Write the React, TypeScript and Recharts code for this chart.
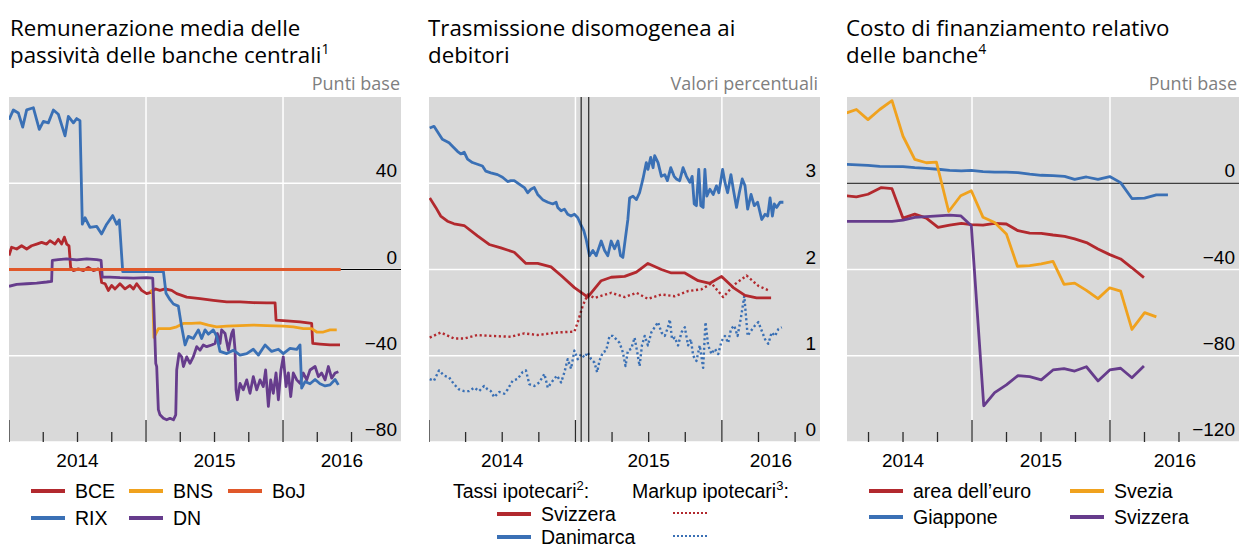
import React from "react";
import { LineChart, Line, XAxis, YAxis, CartesianGrid, ReferenceLine } from "recharts";

type Pt = [number, number];

// ---------- panel 1: average remuneration of central bank liabilities (bp) ----------
const bceData: Pt[] = [
  [2014.0, 6.5], [2014.019, 10.3], [2014.056, 9.5], [2014.092, 11], [2014.129, 9.5], [2014.165, 11],
  [2014.202, 11.8], [2014.238, 12.6], [2014.275, 11.8], [2014.299, 13.4], [2014.336, 11.8], [2014.36, 14],
  [2014.384, 11.8], [2014.404, 15], [2014.421, 11.8], [2014.438, 11], [2014.45, 1], [2014.47, -0.5],
  [2014.506, 0.3], [2014.543, -0.5], [2014.579, 1], [2014.616, -0.5], [2014.652, 0.3], [2014.664, -0.5],
  [2014.676, -6], [2014.701, -6.6], [2014.725, -9.7], [2014.749, -7.4], [2014.774, -9], [2014.81, -6.6],
  [2014.847, -9], [2014.883, -7.4], [2014.908, -9], [2014.932, -6.6], [2014.968, -9.7], [2015.005, -11.2],
  [2015.041, -10.5], [2015.066, -9], [2015.102, -9.7], [2015.139, -9], [2015.187, -9.7], [2015.224, -11.2],
  [2015.297, -12.8], [2015.394, -13.5], [2015.491, -14.3], [2015.589, -15], [2015.686, -15], [2015.783, -15.4],
  [2015.881, -15.5], [2015.942, -15.5], [2015.949, -23.5], [2016.027, -23.8], [2016.124, -24.3], [2016.209, -25],
  [2016.217, -34.3], [2016.27, -34.6], [2016.343, -35], [2016.416, -35],
];
const bnsData: Pt[] = [
  [2015.034, -9.4], [2015.049, -11], [2015.058, -31.5], [2015.09, -27.4], [2015.127, -27.4], [2015.175, -27.4],
  [2015.224, -26.6], [2015.273, -25], [2015.333, -25], [2015.394, -24.8], [2015.455, -25.8], [2015.516, -26.6],
  [2015.589, -26.3], [2015.686, -26], [2015.783, -25.8], [2015.881, -26], [2016.002, -26.3], [2016.075, -26.6],
  [2016.148, -27.4], [2016.209, -27.4], [2016.246, -29], [2016.294, -29], [2016.343, -28], [2016.392, -28],
];
const bojData: Pt[] = [[2014.0, 0], [2016.421, 0]];
const rixData: Pt[] = [
  [2014.0, 69.5], [2014.032, 74], [2014.068, 72.6], [2014.1, 66], [2014.129, 74], [2014.178, 75],
  [2014.221, 65], [2014.251, 68.7], [2014.287, 68], [2014.324, 74], [2014.36, 72], [2014.409, 62],
  [2014.433, 71], [2014.47, 68], [2014.494, 70], [2014.518, 69], [2014.535, 21], [2014.555, 24],
  [2014.591, 19.5], [2014.64, 20], [2014.676, 16.5], [2014.713, 21], [2014.757, 25], [2014.786, 21],
  [2014.805, 23], [2014.83, -1], [2015.127, -1], [2015.146, -11], [2015.175, -14], [2015.2, -16],
  [2015.236, -17], [2015.26, -26.6], [2015.285, -35], [2015.309, -31], [2015.345, -32], [2015.382, -28],
  [2015.406, -32], [2015.431, -28], [2015.455, -30], [2015.491, -28], [2015.516, -31], [2015.54, -38],
  [2015.589, -39], [2015.637, -37.4], [2015.686, -39.7], [2015.735, -39], [2015.783, -37], [2015.82, -39.7],
  [2015.869, -35], [2015.917, -38], [2015.966, -37], [2016.002, -39], [2016.051, -36.6], [2016.1, -37],
  [2016.124, -35], [2016.136, -55], [2016.161, -52], [2016.197, -53], [2016.234, -51], [2016.27, -53],
  [2016.307, -54], [2016.343, -53.5], [2016.38, -51], [2016.404, -53.5],
];
const dnData: Pt[] = [
  [2014.0, -7.8], [2014.056, -6.9], [2014.129, -6.6], [2014.202, -6.3], [2014.275, -5.8], [2014.311, -5.5],
  [2014.316, 4.2], [2014.36, 4.6], [2014.421, 4.9], [2014.494, 4.5], [2014.567, 4.9], [2014.64, 4.6],
  [2014.672, 4.2], [2014.681, -3.5], [2014.737, -3.5], [2014.81, -3.8], [2014.908, -4], [2015.005, -3.8],
  [2015.049, -4], [2015.058, -19], [2015.071, -43.5], [2015.078, -45], [2015.09, -65], [2015.102, -67.4],
  [2015.127, -69], [2015.151, -69.7], [2015.175, -69], [2015.2, -69.7], [2015.217, -67.4], [2015.224, -46.6],
  [2015.241, -39], [2015.26, -40.5], [2015.273, -45], [2015.297, -40.5], [2015.321, -43.5], [2015.345, -40.5],
  [2015.37, -35.8], [2015.394, -37.4], [2015.418, -35], [2015.443, -35.8], [2015.479, -35], [2015.504, -34.3],
  [2015.521, -29.7], [2015.54, -34.3], [2015.552, -28], [2015.577, -29.7], [2015.601, -37.4], [2015.625, -29.7],
  [2015.637, -28], [2015.65, -37.4], [2015.657, -55.8], [2015.667, -60.4], [2015.686, -52.8], [2015.71, -55.8],
  [2015.735, -51.2], [2015.759, -57.4], [2015.783, -49.7], [2015.808, -55.8], [2015.832, -51.2], [2015.856, -54.3],
  [2015.873, -46.6], [2015.893, -63.5], [2015.91, -51.2], [2015.929, -57.4], [2015.949, -48], [2015.966, -60.4],
  [2015.985, -46.6], [2016.002, -40.5], [2016.022, -54.3], [2016.039, -48], [2016.056, -59], [2016.075, -48],
  [2016.1, -51.2], [2016.124, -52.8], [2016.148, -48], [2016.173, -51.2], [2016.197, -46.6], [2016.234, -45],
  [2016.258, -49.7], [2016.282, -48], [2016.307, -51.2], [2016.331, -45], [2016.355, -50.4], [2016.38, -48],
  [2016.404, -47.4],
];

// ---------- panel 2: mortgage rates and markups (%) ----------
const chRate: Pt[] = [
  [2014.005, 2.83], [2014.046, 2.72], [2014.08, 2.62], [2014.126, 2.56], [2014.171, 2.53], [2014.24, 2.51],
  [2014.331, 2.39], [2014.411, 2.29], [2014.491, 2.25], [2014.582, 2.2], [2014.662, 2.07], [2014.742, 2.07],
  [2014.833, 2.03], [2014.902, 1.93], [2014.993, 1.79], [2015.084, 1.68], [2015.176, 1.87], [2015.244, 1.91],
  [2015.336, 1.92], [2015.416, 1.97], [2015.495, 2.07], [2015.587, 2.0], [2015.655, 1.96], [2015.747, 1.96],
  [2015.838, 1.87], [2015.918, 1.84], [2015.998, 1.92], [2016.078, 1.79], [2016.158, 1.7], [2016.237, 1.67],
  [2016.336, 1.67],
];
const dkRate: Pt[] = [
  [2014.005, 3.64], [2014.034, 3.66], [2014.057, 3.6], [2014.091, 3.51], [2014.114, 3.49], [2014.137, 3.47],
  [2014.16, 3.43], [2014.194, 3.37], [2014.217, 3.34], [2014.24, 3.36], [2014.263, 3.28], [2014.297, 3.24],
  [2014.331, 3.22], [2014.365, 3.2], [2014.388, 3.14], [2014.422, 3.12], [2014.468, 3.1], [2014.502, 3.07],
  [2014.537, 3.02], [2014.559, 3.03], [2014.582, 3.03], [2014.616, 2.99], [2014.651, 2.95], [2014.674, 2.89],
  [2014.696, 2.93], [2014.719, 2.95], [2014.742, 2.87], [2014.776, 2.81], [2014.811, 2.78], [2014.845, 2.76],
  [2014.868, 2.78], [2014.879, 2.72], [2014.902, 2.68], [2014.925, 2.7], [2014.947, 2.64], [2014.97, 2.62],
  [2014.993, 2.64], [2015.016, 2.6], [2015.034, 2.53], [2015.057, 2.45], [2015.073, 2.35], [2015.096, 2.16],
  [2015.119, 2.22], [2015.142, 2.16], [2015.176, 2.33], [2015.199, 2.22], [2015.221, 2.16], [2015.244, 2.33],
  [2015.267, 2.24], [2015.29, 2.33], [2015.308, 2.16], [2015.324, 2.14], [2015.34, 2.35], [2015.358, 2.58],
  [2015.37, 2.83], [2015.393, 2.85], [2015.416, 2.81], [2015.438, 2.89], [2015.461, 3.05], [2015.484, 3.24],
  [2015.495, 3.16], [2015.514, 3.3], [2015.53, 3.18], [2015.541, 3.32], [2015.564, 3.24], [2015.587, 3.08],
  [2015.61, 3.1], [2015.628, 3.03], [2015.651, 3.18], [2015.674, 3.08], [2015.689, 3.05], [2015.712, 3.03],
  [2015.735, 3.18], [2015.758, 3.08], [2015.781, 3.01], [2015.797, 3.08], [2015.811, 2.76], [2015.826, 2.74],
  [2015.842, 3.16], [2015.856, 2.74], [2015.872, 2.72], [2015.884, 3.16], [2015.897, 2.85], [2015.918, 2.93],
  [2015.941, 2.87], [2015.963, 2.97], [2015.979, 2.89], [2016.005, 3.16], [2016.021, 3.01], [2016.039, 2.89],
  [2016.062, 3.1], [2016.078, 2.93], [2016.1, 2.72], [2016.119, 2.89], [2016.139, 3.05], [2016.158, 2.97],
  [2016.176, 2.7], [2016.199, 2.87], [2016.221, 2.74], [2016.244, 2.78], [2016.272, 2.58], [2016.295, 2.64],
  [2016.313, 2.62], [2016.329, 2.83], [2016.345, 2.62], [2016.358, 2.76], [2016.374, 2.72], [2016.397, 2.78],
  [2016.42, 2.78],
];
const chMarkup: Pt[] = [
  [2014.005, 1.21], [2014.08, 1.27], [2014.171, 1.2], [2014.24, 1.2], [2014.331, 1.24], [2014.422, 1.23],
  [2014.559, 1.22], [2014.651, 1.26], [2014.742, 1.24], [2014.879, 1.27], [2014.993, 1.28], [2015.016, 1.39],
  [2015.05, 1.58], [2015.084, 1.71], [2015.13, 1.67], [2015.244, 1.73], [2015.336, 1.68], [2015.416, 1.73],
  [2015.495, 1.66], [2015.587, 1.71], [2015.678, 1.69], [2015.769, 1.75], [2015.861, 1.77], [2015.929, 1.84],
  [2016.009, 1.68], [2016.089, 1.83], [2016.169, 1.93], [2016.249, 1.81], [2016.329, 1.75],
];
const dkMarkup: Pt[] = [
  [2014.005, 0.73], [2014.034, 0.71], [2014.068, 0.83], [2014.103, 0.77], [2014.137, 0.75], [2014.171, 0.67],
  [2014.205, 0.61], [2014.24, 0.59], [2014.274, 0.59], [2014.308, 0.63], [2014.342, 0.59], [2014.377, 0.65],
  [2014.4, 0.61], [2014.422, 0.59], [2014.445, 0.52], [2014.479, 0.58], [2014.514, 0.56], [2014.537, 0.61],
  [2014.571, 0.71], [2014.605, 0.73], [2014.639, 0.81], [2014.662, 0.83], [2014.685, 0.67], [2014.719, 0.65],
  [2014.753, 0.69], [2014.788, 0.79], [2014.811, 0.63], [2014.845, 0.71], [2014.874, 0.77], [2014.902, 0.69],
  [2014.925, 0.81], [2014.947, 0.96], [2014.97, 0.85], [2014.993, 1.06], [2015.016, 0.96], [2015.039, 1.02],
  [2015.062, 0.98], [2015.084, 1.04], [2015.107, 0.96], [2015.13, 0.92], [2015.148, 0.81], [2015.164, 0.94],
  [2015.187, 1.04], [2015.21, 1.06], [2015.233, 1.23], [2015.256, 1.23], [2015.279, 1.19], [2015.301, 1.15],
  [2015.324, 1.04], [2015.342, 0.88], [2015.358, 1.06], [2015.381, 1.08], [2015.404, 1.21], [2015.422, 1.04],
  [2015.438, 0.88], [2015.454, 1.12], [2015.473, 1.23], [2015.495, 1.12], [2015.518, 1.27], [2015.541, 1.33],
  [2015.564, 1.39], [2015.587, 1.27], [2015.61, 1.23], [2015.632, 1.33], [2015.644, 1.42], [2015.66, 1.19],
  [2015.678, 1.21], [2015.701, 1.12], [2015.724, 1.27], [2015.747, 1.33], [2015.769, 1.12], [2015.788, 1.19],
  [2015.804, 1.0], [2015.826, 0.94], [2015.849, 1.12], [2015.872, 0.86], [2015.888, 1.39], [2015.906, 1.12],
  [2015.929, 1.02], [2015.952, 1.08], [2015.975, 1.02], [2015.998, 1.17], [2016.021, 1.23], [2016.043, 1.15],
  [2016.062, 1.31], [2016.084, 1.35], [2016.107, 1.23], [2016.13, 1.44], [2016.153, 1.69], [2016.176, 1.23],
  [2016.199, 1.29], [2016.226, 1.35], [2016.249, 1.39], [2016.272, 1.29], [2016.295, 1.19], [2016.317, 1.14],
  [2016.34, 1.27], [2016.363, 1.23], [2016.386, 1.31], [2016.409, 1.33],
];
const snbDates = [2015.039, 2015.091];

// ---------- panel 3: relative bank funding cost (bp) ----------
const euroArea: Pt[] = [
  [2014.092, -5.8], [2014.162, -6.3], [2014.246, -5.1], [2014.343, -2], [2014.42, -2.5], [2014.5, -16.2],
  [2014.585, -14.3], [2014.669, -16.2], [2014.754, -20.5], [2014.838, -19.4], [2014.923, -18.6], [2014.995, -19.2],
  [2015.08, -19.4], [2015.164, -18.6], [2015.249, -18.9], [2015.333, -22], [2015.418, -23.1], [2015.502, -23.2],
  [2015.587, -24], [2015.671, -24.6], [2015.744, -25.8], [2015.829, -27.5], [2015.913, -30.5], [2015.998, -33.1],
  [2016.077, -35.1], [2016.159, -39.2], [2016.246, -43.8],
];
const sweden: Pt[] = [
  [2014.092, 32.6], [2014.162, 34.2], [2014.246, 29.5], [2014.331, 34.2], [2014.42, 38.3], [2014.5, 21.8],
  [2014.585, 11.1], [2014.669, 9.5], [2014.742, 9.8], [2014.831, -13.1], [2014.918, -5.8], [2014.995, -3.5],
  [2015.08, -15.8], [2015.164, -18.2], [2015.249, -23.5], [2015.329, -38.5], [2015.418, -38.2], [2015.502, -37.4],
  [2015.587, -36.2], [2015.667, -46.9], [2015.744, -46.3], [2015.829, -49.7], [2015.913, -53.5], [2015.998, -48.5],
  [2016.077, -50], [2016.159, -67.8], [2016.251, -60], [2016.336, -62],
];
const japan: Pt[] = [
  [2014.092, 8.8], [2014.246, 8.3], [2014.331, 7.8], [2014.5, 7.7], [2014.585, 7.2], [2014.669, 6.9],
  [2014.754, 6.5], [2014.838, 6], [2014.923, 5.7], [2014.995, 6], [2015.08, 5.4], [2015.164, 5.2],
  [2015.249, 5.2], [2015.333, 4.9], [2015.418, 4.2], [2015.502, 3.7], [2015.587, 3.5], [2015.671, 3.2],
  [2015.744, 1.8], [2015.829, 2.9], [2015.913, 1.8], [2015.998, 3.1], [2016.077, 0.3], [2016.159, -7.1],
  [2016.251, -6.9], [2016.336, -5.4], [2016.42, -5.4],
];
const switzerland: Pt[] = [
  [2014.092, -17.7], [2014.246, -17.7], [2014.42, -17.7], [2014.5, -17.1], [2014.585, -15.8], [2014.669, -15.5],
  [2014.754, -15.1], [2014.838, -14.8], [2014.918, -15.1], [2014.995, -19.7], [2015.085, -103.2], [2015.164, -97.1],
  [2015.249, -93.5], [2015.333, -89.2], [2015.418, -89.7], [2015.502, -91.2], [2015.587, -86.6], [2015.667, -86],
  [2015.744, -87.1], [2015.829, -85.1], [2015.913, -91.7], [2015.998, -86.6], [2016.077, -85.8], [2016.159, -90.2],
  [2016.246, -84.8],
];

// ---------- axes ----------
const quarterTicks = [2014.25, 2014.5, 2014.75, 2015.25, 2015.5, 2015.75, 2016.25, 2016.5];
const yearTicks = [2014, 2015, 2016];
const yearLines = [2015, 2016];
const yTicks1 = [-80, -40, 0, 40];
const yTicks2 = [0, 1, 2, 3];
const yTicks3 = [-120, -80, -40, 0];
const yearLabels1 = [{ t: 2014.5, label: "2014" }, { t: 2015.5, label: "2015" }, { t: 2016.43, label: "2016" }];
const yearLabels2 = [{ t: 2014.5, label: "2014" }, { t: 2015.5, label: "2015" }, { t: 2016.335, label: "2016" }];
const yearLabels3 = [{ t: 2014.5, label: "2014" }, { t: 2015.5, label: "2015" }, { t: 2016.47, label: "2016" }];

const RED = "#b2292e";
const YELLOW = "#f0a21e";
const ORANGE = "#e0582a";
const BLUE = "#3a70b5";
const PURPLE = "#663c8c";
const GREY = "#d9d9d9";
const TITLE_FONT = "'Open Sans', 'Noto Sans', sans-serif";
const LABEL_FONT = "'Liberation Sans', Arial, sans-serif";

const PLOT_TOP = 97;
const PLOT_H = 345;

interface Series { name: string; color: string; data: Pt[]; dotted?: boolean }

const near = (a: number, b: number) => Math.abs(a - b) < 1e-6;
const fmtY = (v: number) => (v < 0 ? "\u2212" + Math.abs(v) : String(v));

function makeXTick(majors: number[], minors: number[], labels: { t: number; label: string }[]) {
  return (props: any) => {
    const { x, y, payload } = props;
    const v = payload.value as number;
    const isMajor = majors.some((m) => near(m, v));
    const isMinor = minors.some((m) => near(m, v));
    const lab = labels.find((l) => near(l.t, v));
    return (
      <g>
        {(isMajor || isMinor) && (
          <line x1={x} x2={x} y1={y} y2={y - (isMajor ? 22 : 10)} stroke="#2b2b2b" strokeWidth={1.3} />
        )}
        {lab && (
          <text x={x} y={y + 25} textAnchor="middle" fontSize={19} fontFamily={LABEL_FONT} fill="#000">
            {lab.label}
          </text>
        )}
      </g>
    );
  };
}

// y value labels sit inside the plot, right-aligned, just above their gridline
const yLabel = (v: number) => (p: any) => {
  const vb = p.viewBox || {};
  return (
    <text x={vb.x + vb.width - 4} y={vb.y - 6} textAnchor="end" fontSize={19} fontFamily={LABEL_FONT} fill="#000">
      {fmtY(v)}
    </text>
  );
};

interface PanelProps {
  left: number;
  width: number;
  xDomain: [number, number];
  yDomain: [number, number];
  yTicks: number[];
  majors: number[];
  labels: { t: number; label: string }[];
  series: Series[];
  zeroLine: boolean;
  refX?: number[];
}

function Panel({ left, width, xDomain, yDomain, yTicks, majors, labels, series, zeroLine, refX = [] }: PanelProps) {
  const inDomain = (t: number) => t >= xDomain[0] - 1e-9 && t <= xDomain[1];
  const ticks = Array.from(new Set([...majors, ...quarterTicks, ...labels.map((l) => l.t)]))
    .filter(inDomain)
    .sort((a, b) => a - b);
  return (
    <div style={{ position: "absolute", left, top: PLOT_TOP }}>
      <LineChart width={width} height={PLOT_H + 40} margin={{ top: 0, right: 0, bottom: 0, left: 0 }}>
        <CartesianGrid fill={GREY} fillOpacity={1} stroke="#ffffff" strokeWidth={1.5}
          horizontalValues={yTicks} verticalValues={yearLines} />
        {zeroLine && <CartesianGrid stroke="#000" strokeWidth={1} vertical={false} horizontalValues={[0]} />}
        <XAxis type="number" dataKey="t" domain={xDomain} allowDataOverflow ticks={ticks} interval={0}
          tickLine={false} axisLine={false} height={40} tickSize={0} tickMargin={0}
          tick={makeXTick(majors.filter(inDomain), quarterTicks, labels)} />
        <YAxis type="number" domain={yDomain} allowDataOverflow ticks={yTicks} hide />
        {series.map((s) => (
          <Line key={s.name} data={s.data.map(([t, v]) => ({ t, v }))} dataKey="v" name={s.name}
            stroke={s.color} strokeWidth={s.dotted ? 2.4 : 2.8} strokeDasharray={s.dotted ? "2.2 2.6" : undefined}
            dot={false} activeDot={false} isAnimationActive={false} strokeLinejoin="round" />
        ))}
        {refX.map((x) => (
          <ReferenceLine key={x} x={x} stroke="#000" strokeWidth={1} />
        ))}
        {yTicks.map((v) => (
          <ReferenceLine key={"y" + v} y={v} stroke="none" label={yLabel(v)} />
        ))}
      </LineChart>
    </div>
  );
}

const panel1Series: Series[] = [
  { name: "BCE", color: RED, data: bceData },
  { name: "BNS", color: YELLOW, data: bnsData },
  { name: "DN", color: PURPLE, data: dnData },
  { name: "RIX", color: BLUE, data: rixData },
  { name: "BoJ", color: ORANGE, data: bojData },
];
const panel2Series: Series[] = [
  { name: "chMarkup", color: RED, data: chMarkup, dotted: true },
  { name: "dkMarkup", color: BLUE, data: dkMarkup, dotted: true },
  { name: "chRate", color: RED, data: chRate },
  { name: "dkRate", color: BLUE, data: dkRate },
];
const panel3Series: Series[] = [
  { name: "Giappone", color: BLUE, data: japan },
  { name: "area dell\u2019euro", color: RED, data: euroArea },
  { name: "Svezia", color: YELLOW, data: sweden },
  { name: "Svizzera", color: PURPLE, data: switzerland },
];

const legend1 = [
  { label: "BCE", color: RED, x: 31, y: 491 },
  { label: "BNS", color: YELLOW, x: 129, y: 491 },
  { label: "BoJ", color: ORANGE, x: 228, y: 491 },
  { label: "RIX", color: BLUE, x: 31, y: 518 },
  { label: "DN", color: PURPLE, x: 129, y: 518 },
];
const legend3 = [
  { label: "area dell\u2019euro", color: RED, x: 869, y: 491 },
  { label: "Svezia", color: YELLOW, x: 1070, y: 491 },
  { label: "Giappone", color: BLUE, x: 869, y: 517 },
  { label: "Svizzera", color: PURPLE, x: 1070, y: 517 },
];
const legend2 = [
  { label: "Svizzera", color: RED, x: 497, y: 514 },
  { label: "Danimarca", color: BLUE, x: 497, y: 537 },
];

const textStyle: React.CSSProperties = { fontFamily: LABEL_FONT, fontSize: 19.5, lineHeight: "18px", color: "#000", whiteSpace: "nowrap" };

function Swatch({ color, x, y, dotted }: { color: string; x: number; y: number; dotted?: boolean }) {
  return (
    <div style={{
      position: "absolute", left: x, top: y - 2, width: 34, height: dotted ? 0 : 4,
      background: dotted ? "none" : color,
      borderTop: dotted ? `2.5px dotted ${color}` : undefined,
    }} />
  );
}

function LegendItem({ label, color, x, y }: { label: string; color: string; x: number; y: number }) {
  return (
    <>
      <Swatch color={color} x={x} y={y} />
      <div style={{ ...textStyle, position: "absolute", left: x + 44, top: y - 9 }}>{label}</div>
    </>
  );
}

const sup = (s: string, size = 14, top = -9) => (
  <span style={{ fontSize: size, position: "relative", top }}>{s}</span>
);

function Title({ x, lines, unitRight, unit }: { x: number; lines: React.ReactNode[]; unitRight: number; unit: string }) {
  return (
    <>
      {lines.map((l, i) => (
        <div key={i} style={{ position: "absolute", left: x, top: 14 + i * 27, height: 27, fontFamily: TITLE_FONT, fontSize: 22.3, lineHeight: "27px", color: "#000", whiteSpace: "nowrap" }}>
          {l}
        </div>
      ))}
      <div style={{ position: "absolute", left: unitRight - 300, width: 300, top: 73, textAlign: "right", fontFamily: TITLE_FONT, fontSize: 18, lineHeight: "20px", color: "#7f7f7f" }}>
        {unit}
      </div>
    </>
  );
}

export default function App() {
  return (
    <div style={{ position: "absolute", left: 0, top: 0, width: 1239, height: 549, background: "#fff", overflow: "hidden" }}>
      <Title x={10} unitRight={400} unit="Punti base"
        lines={["Remunerazione media delle", <>passività delle banche centrali{sup("1")}</>]} />
      <Title x={428} unitRight={818} unit="Valori percentuali"
        lines={["Trasmissione disomogenea ai", "debitori"]} />
      <Title x={846} unitRight={1237} unit="Punti base"
        lines={["Costo di finanziamento relativo", <>delle banche{sup("4")}</>]} />

      <Panel left={9} width={392} xDomain={[2014, 2016.861]} yDomain={[-80, 80]} yTicks={yTicks1}
        majors={yearTicks} labels={yearLabels1} series={panel1Series} zeroLine />
      <Panel left={429} width={391} xDomain={[2014, 2016.67]} yDomain={[0, 4]} yTicks={yTicks2}
        majors={yearTicks} labels={yearLabels2} series={panel2Series} zeroLine={false} refX={snbDates} />
      <Panel left={847} width={392} xDomain={[2014.094, 2016.935]} yDomain={[-120, 40]} yTicks={yTicks3}
        majors={yearTicks} labels={yearLabels3} series={panel3Series} zeroLine />

      {legend1.map((l) => <LegendItem key={l.label} {...l} />)}
      {legend3.map((l) => <LegendItem key={l.label} {...l} />)}

      <div style={{ ...textStyle, position: "absolute", left: 453, top: 482 }}>
        Tassi ipotecari{sup("2", 13, -8)}:
      </div>
      <div style={{ ...textStyle, position: "absolute", left: 632, top: 482 }}>
        Markup ipotecari{sup("3", 13, -8)}:
      </div>
      {legend2.map((l) => <LegendItem key={l.label} {...l} />)}
      <Swatch color={RED} x={673} y={514} dotted />
      <Swatch color={BLUE} x={673} y={537} dotted />
    </div>
  );
}
